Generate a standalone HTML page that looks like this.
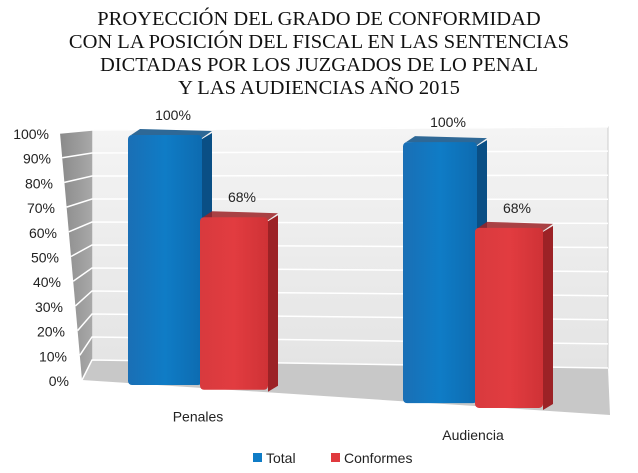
<!DOCTYPE html>
<html><head><meta charset="utf-8">
<style>
html,body{margin:0;padding:0;background:#fff;}
svg{display:block;font-family:"Liberation Sans",sans-serif;}
</style></head>
<body>
<svg id="chart" width="638" height="473" viewBox="0 0 638 473">
<defs>
<linearGradient id="wall" x1="0" y1="0" x2="0" y2="1"><stop offset="0" stop-color="#f4f4f4"/><stop offset="1" stop-color="#e4e4e4"/></linearGradient>
<linearGradient id="side" x1="0" y1="0" x2="1" y2="0"><stop offset="0" stop-color="#8a8a8a"/><stop offset="1" stop-color="#a8a8a8"/></linearGradient>
<linearGradient id="blueF" x1="0" y1="0" x2="1" y2="0"><stop offset="0" stop-color="#1a6fb5"/><stop offset="0.5" stop-color="#0f7cc6"/><stop offset="1" stop-color="#0d6bb0"/></linearGradient>
<linearGradient id="redF" x1="0" y1="0" x2="1" y2="0"><stop offset="0" stop-color="#d83a3e"/><stop offset="0.5" stop-color="#e23c40"/><stop offset="1" stop-color="#cf3236"/></linearGradient>
</defs>
<g font-family="Liberation Serif, serif" font-size="20.5" text-anchor="middle" fill="#111">
<text x="319" y="25">PROYECCIÓN DEL GRADO DE CONFORMIDAD</text>
<text x="319" y="48">CON LA POSICIÓN DEL FISCAL EN LAS SENTENCIAS</text>
<text x="319" y="71">DICTADAS POR LOS JUZGADOS DE LO PENAL</text>
<text x="319" y="94">Y LAS AUDIENCIAS AÑO 2015</text>
</g>
<polygon points="92,130 608,127 608,368 92,360" fill="url(#wall)" stroke="#ccc"/>
<polygon points="60,133 92,130 92,360 82,380" fill="url(#side)"/>
<polygon points="92,360 608,368 610,415 82,380" fill="#c8c8c8"/>
<g id="grid"></g>
<g id="yticks" font-size="14" fill="#222" text-anchor="end"></g>
<g id="bars"></g>
<g id="labels" font-size="14" fill="#222" text-anchor="middle"></g>
<g font-size="14" fill="#222">
<rect x="253" y="453" width="9" height="9" fill="#0f7cc6"/>
<text x="266" y="463">Total</text>
<rect x="331" y="453" width="9" height="9" fill="#e03a3e"/>
<text x="344" y="463">Conformes</text>
</g>
</svg>
<script>
const categories = ["Penales","Audiencia"];
const totalValues = [100,100];
const conformesValues = [68,68];
const tickLabels = ["0%","10%","20%","30%","40%","50%","60%","70%","80%","90%","100%"];
const NS="http://www.w3.org/2000/svg";
function mk(tag,attrs,parent){const e=document.createElementNS(NS,tag);for(const k in attrs)e.setAttribute(k,attrs[k]);parent.appendChild(e);return e;}
function wallY(v){return 360-(v/100)*230;}
function sideY(v){return 380-(v/100)*247;}
function floorY(x){return 380+(x-82)*0.066;}
function heightAt(x){return 248+(x-128)*0.04;}
function barY(v,x){return floorY(x)-(v/100)*heightAt(x);}
const grid=document.getElementById('grid');
const yt=document.getElementById('yticks');
tickLabels.forEach((t,i)=>{
  const v=i*10;
  const l=mk('polyline',{points:`${82-(v/100)*22},${sideY(v)} 92,${wallY(v)} 608,${wallY(v)+ (1-v/100)*8 - 3*(v/100)}`,fill:'none',stroke:'#fff','stroke-width':'1.5'},grid);
  
  
  const tx=mk('text',{x:69-(v/100)*20,y:sideY(v)+6},yt);
  tx.textContent=t;
  
  
});
const bars=document.getElementById('bars');
const labels=document.getElementById('labels');
const groupX=[128,403];
function drawBar(x,w,v,fill,dark,name){
  const b=floorY(x)+2, t=barY(v,x);
  const g=mk('g',{},bars);
  
  
  mk('polygon',{points:`${x+w},${t+4} ${x+w+10},${t-2} ${x+w+10},${b-4} ${x+w},${b+2}`,fill:dark},g);
  mk('polygon',{points:`${x+3},${t} ${x+12},${t-6} ${x+w+10},${t-4} ${x+w},${t+3}`,fill:dark,opacity:'0.85'},g);
  mk('rect',{x:x,y:t,width:w,height:b-t,rx:4,fill:fill},g);
  const tx=mk('text',{x:x+w/2+8,y:t-15},labels);
  tx.textContent=v+'%';
  
  
}
categories.forEach((c,i)=>{
  const x=groupX[i];
  drawBar(x,74,totalValues[i],'url(#blueF)','#0a4f85','bar-total-'+c.toLowerCase());
  drawBar(x+72,68,conformesValues[i],'url(#redF)','#9c2226','bar-conformes-'+c.toLowerCase());
  const tx=mk('text',{x:x+70,y:floorY(x+70)+34},labels);
  tx.textContent=c;
  
  
});
</script>
</body></html>
